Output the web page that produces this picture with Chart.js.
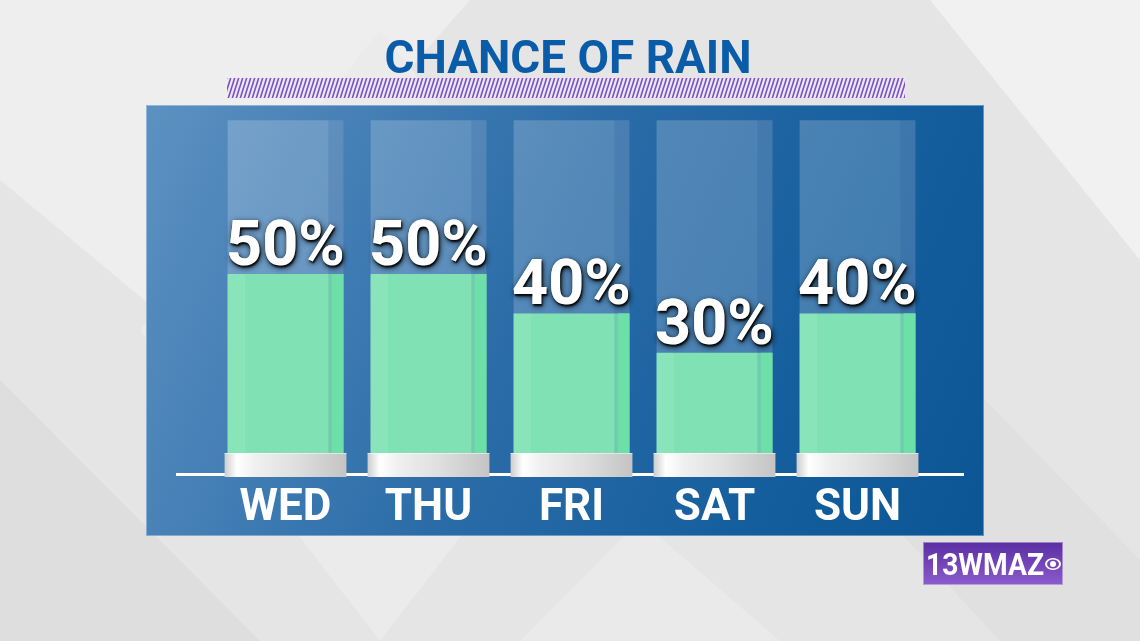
<!DOCTYPE html>
<html>
<head>
<meta charset="utf-8">
<script src="https://cdn.jsdelivr.net/npm/chart.js@4.4.0/dist/chart.umd.min.js"></script>
<style>
  html, body { margin: 0; padding: 0; background: #e6e6e6; overflow: hidden; }
  canvas { display: block; }
</style>
</head>
<body>
<canvas id="rainChart" width="1140" height="641"></canvas>
<script>
// -------- DATA --------
const days = ["WED", "THU", "FRI", "SAT", "SUN"];
const rainChance = [50, 50, 40, 30, 40];
const tubeLevel = [89, 89, 89, 89, 89];
const chartTitle = "CHANCE OF RAIN";
const logoText = "13WMAZ";

// -------- BACKGROUND / FRAME --------
const backdrop = {
    id: "backdrop",
    beforeDraw(chart) {
        const c = chart.ctx;
        c.save();
        c.fillStyle = "#e5e5e5";
        c.fillRect(0, 0, 1140, 641);

        // soft diamond shapes
        const shape = (pts, col) => {
            c.beginPath();
            c.moveTo(pts[0][0], pts[0][1]);
            pts.slice(1).forEach(p => c.lineTo(p[0], p[1]));
            c.closePath();
            c.fillStyle = col;
            c.fill();
        };
        shape([[0, 0], [470, 0], [180, 330], [0, 180]], "#eeeeee");
        shape([[380, 30], [620, 330], [380, 641], [140, 330]], "#ebebeb");
        shape([[700, 0], [1140, 0], [1140, 260], [930, 0]], "#f1f1f1");
        shape([[850, 260], [1140, 560], [1140, 641], [1000, 641], [760, 380]], "#e0e0e0");
        shape([[0, 380], [260, 641], [0, 641]], "#dedede");
        shape([[520, 641], [640, 520], [780, 641]], "#eaeaea");

        // title
        c.fillStyle = "#0b5ca8";
        c.font = "bold 46px Roboto";
        c.textAlign = "center";
        c.textBaseline = "alphabetic";
        const tw = c.measureText(chartTitle).width;
        c.translate(568, 73);
        c.scale(367 / tw, 1);
        c.fillText(chartTitle, 0, 0);
        c.setTransform(1, 0, 0, 1, 0, 0);

        // hatched bar under title
        c.save();
        c.beginPath();
        c.rect(227, 78, 678, 20);
        c.clip();
        c.fillStyle = "#eeeaf5";
        c.fillRect(227, 78, 678, 20);
        c.strokeStyle = "#7b50c8";
        c.lineWidth = 1.6;
        for (let x = 220; x < 915; x += 4) {
            c.beginPath();
            c.moveTo(x, 99);
            c.lineTo(x + 7, 77);
            c.stroke();
        }
        c.restore();

        // blue panel
        const g = c.createLinearGradient(146, 140, 984, 500);
        g.addColorStop(0, "#5b90c1");
        g.addColorStop(0.45, "#2b6ca8");
        g.addColorStop(0.75, "#165f9e");
        g.addColorStop(1, "#0c5696");
        c.fillStyle = g;
        c.fillRect(146, 105, 838, 431);
        c.strokeStyle = "rgba(255,255,255,0.35)";
        c.lineWidth = 1;
        c.strokeRect(146.5, 105.5, 837, 430);
        c.restore();
    }
};

// -------- PEDESTALS, LABELS, LOGO --------
const overlays = {
    id: "overlays",
    afterDatasetsDraw(chart) {
        const c = chart.ctx;
        const y = chart.scales.y;
        const base = y.getPixelForValue(0);
        const tubes = chart.getDatasetMeta(1).data;
        const bars = chart.getDatasetMeta(0).data;
        c.save();

        // darker strip at the right side of each tube, brighter green strip on bars
        tubes.forEach(el => {
            const w = el.width;
            const r = el.x + w / 2;
            c.fillStyle = "rgba(20,70,140,0.14)";
            c.fillRect(r - w * 0.13, el.y, w * 0.13, base - el.y);
        });
        bars.forEach(el => {
            const w = el.width;
            const r = el.x + w / 2;
            c.fillStyle = "#6ddfa9";
            c.fillRect(r - w * 0.1, el.y, w * 0.1, el.base - el.y);
            c.fillStyle = "rgba(255,255,255,0.08)";
            c.fillRect(el.x - w / 2, el.y, w * 0.15, el.base - el.y);
        });

        // baseline
        c.fillStyle = "#ffffff";
        c.fillRect(176, base + 2, 788, 3);

        // pedestals
        bars.forEach(el => {
            const left = el.x - el.width / 2 - 3;
            const pw = el.width + 6;
            const top = base - 18;
            const pg = c.createLinearGradient(left, 0, left + pw, 0);
            pg.addColorStop(0, "#cdcdcd");
            pg.addColorStop(0.1, "#ffffff");
            pg.addColorStop(0.25, "#f0f0f0");
            pg.addColorStop(0.6, "#dedede");
            pg.addColorStop(1, "#c4c4c4");
            c.fillStyle = pg;
            c.fillRect(left, top, pw, 24);
            c.fillStyle = "rgba(255,255,255,0.5)";
            c.fillRect(left, top, pw, 1);
        });

        // percent labels
        c.font = "bold 63px Roboto";
        c.textAlign = "center";
        c.textBaseline = "alphabetic";
        bars.forEach((el, i) => {
            const txt = rainChance[i] + "%";
            c.save();
            c.shadowColor = "rgba(0,0,0,0.9)";
            c.shadowBlur = 6;
            c.shadowOffsetX = 1;
            c.shadowOffsetY = 2;
            c.fillStyle = "#ffffff";
            c.fillText(txt, el.x, el.y - 9);
            c.shadowBlur = 2;
            c.fillText(txt, el.x, el.y - 9);
            c.restore();
        });

        // day labels
        c.font = "bold 44px Roboto";
        c.fillStyle = "#ffffff";
        days.forEach((d, i) => {
            c.fillText(d, chart.scales.x.getPixelForValue(i), 520);
        });

        // station logo
        const lg = c.createLinearGradient(0, 542, 0, 585);
        lg.addColorStop(0, "#5c2ea4");
        lg.addColorStop(1, "#8a5bcb");
        c.fillStyle = lg;
        c.fillRect(923, 542, 140, 43);
        c.strokeStyle = "rgba(255,255,255,0.4)";
        c.lineWidth = 1;
        c.strokeRect(923.5, 542.5, 139, 42);
        c.fillStyle = "#ffffff";
        c.font = "bold 32px Roboto";
        c.textAlign = "left";
        const lw = c.measureText(logoText).width;
        c.translate(926, 575);
        c.scale(118 / lw, 1);
        c.fillText(logoText, 0, 0);
        c.setTransform(1, 0, 0, 1, 0, 0);
        // eye mark
        c.beginPath();
        c.ellipse(1053, 564, 8, 6, 0, 0, Math.PI * 2);
        c.fill();
        c.fillStyle = "#7447b8";
        c.beginPath();
        c.ellipse(1053, 564, 6, 4.5, 0, 0, Math.PI * 2);
        c.fill();
        c.fillStyle = "#ffffff";
        c.beginPath();
        c.arc(1053, 564, 3, 0, Math.PI * 2);
        c.fill();

        c.restore();
    }
};

// -------- CHART --------
const ctx = document.getElementById("rainChart").getContext("2d");

const rainChart = new Chart(ctx, {
    type: "bar",
    data: {
        labels: days,
        datasets: [
            {
                label: "Chance of rain",
                data: rainChance,
                backgroundColor: "#80e2b4",
                borderWidth: 0,
                grouped: false,
                order: 1,
                barPercentage: 0.9,
                categoryPercentage: 0.9
            },
            {
                label: "Tube",
                data: tubeLevel,
                backgroundColor: "rgba(255,255,255,0.2)",
                borderWidth: 0,
                grouped: false,
                order: 2,
                barPercentage: 0.9,
                categoryPercentage: 0.9
            }
        ]
    },
    options: {
        responsive: false,
        animation: false,
        layout: {
            padding: { left: 214, right: 211, top: 77, bottom: 170 }
        },
        plugins: {
            legend: { display: false },
            tooltip: { enabled: false }
        },
        scales: {
            x: { display: false },
            y: { display: false, min: 0, max: 100 }
        }
    },
    plugins: [backdrop, overlays]
});
</script>
</body>
</html>
